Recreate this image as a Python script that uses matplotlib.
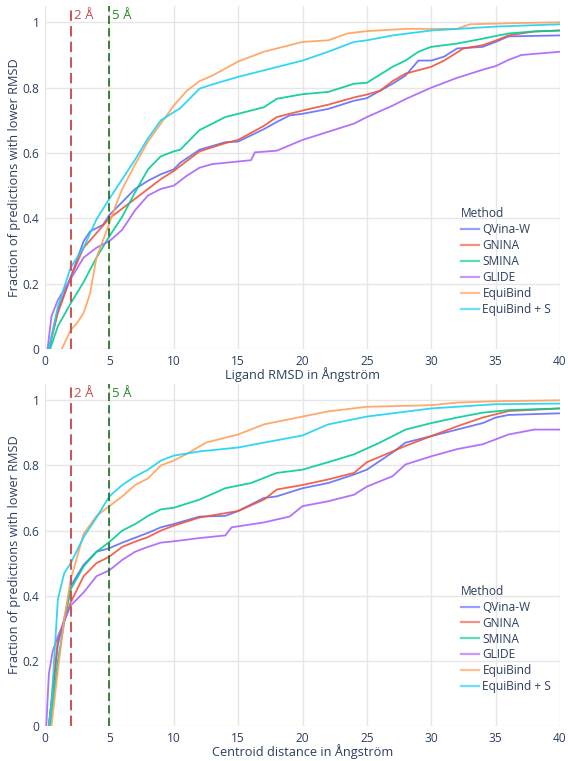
'''
Cumulative fraction of docking predictions below a distance threshold.
'''

import matplotlib
matplotlib.use('Agg')
import matplotlib.pyplot as plt
from matplotlib.lines import Line2D


methods = ['QVina-W', 'GNINA', 'SMINA', 'GLIDE', 'EquiBind', 'EquiBind + S']
colors = ['#636EFA', '#EF553B', '#00CC96', '#AB63FA', '#FFA15A', '#19D3F3']

# Ligand RMSD (top panel)
rmsd_x_qvina = [0.3, 1, 2, 3, 3.5, 4, 4.5, 5, 6, 7, 8, 9, 10, 10.5, 12, 14, 15, 17, 18, 19, 20, 22, 24, 25, 27, 28, 29, 30, 31, 32, 34, 35, 36, 40]
rmsd_y_qvina = [0, 0.12, 0.22, 0.33, 0.36, 0.37, 0.38, 0.41, 0.45, 0.49, 0.515, 0.535, 0.55, 0.57, 0.61, 0.633, 0.635, 0.673, 0.695, 0.715, 0.72, 0.735, 0.76, 0.768, 0.812, 0.837, 0.883, 0.883, 0.895, 0.92, 0.925, 0.94, 0.957, 0.96]

rmsd_x_gnina = [0.3, 1, 2, 3, 4, 5, 6, 7, 8, 9, 10, 10.5, 12, 14, 15, 17, 18, 20, 22, 24, 25, 26, 27, 28, 30, 31, 32.5, 34, 35, 36, 38, 40]
rmsd_y_gnina = [0, 0.11, 0.22, 0.31, 0.355, 0.40, 0.43, 0.46, 0.49, 0.52, 0.545, 0.56, 0.605, 0.63, 0.64, 0.683, 0.71, 0.73, 0.748, 0.77, 0.779, 0.79, 0.82, 0.843, 0.864, 0.883, 0.92, 0.93, 0.944, 0.96, 0.972, 0.975]

rmsd_x_smina = [0.4, 1, 2, 3, 4, 5, 6, 7, 8, 9, 10, 10.5, 12, 14, 15, 17, 18, 20, 22, 24, 25, 27, 28, 29, 30, 32, 34, 36, 38, 40]
rmsd_y_smina = [0, 0.07, 0.14, 0.205, 0.28, 0.345, 0.405, 0.48, 0.55, 0.59, 0.605, 0.61, 0.67, 0.71, 0.72, 0.74, 0.766, 0.78, 0.787, 0.812, 0.815, 0.864, 0.883, 0.91, 0.925, 0.935, 0.95, 0.966, 0.972, 0.975]

rmsd_x_glide = [0.2, 0.5, 1, 2, 3, 4, 5, 6, 7, 8, 9, 10, 11, 12, 13, 16, 16.3, 18, 20, 22, 24, 25, 27, 28, 30, 32, 34, 35, 36, 37, 40]
rmsd_y_glide = [0, 0.10, 0.15, 0.215, 0.28, 0.31, 0.33, 0.365, 0.425, 0.47, 0.49, 0.50, 0.53, 0.555, 0.566, 0.578, 0.602, 0.607, 0.64, 0.665, 0.69, 0.71, 0.745, 0.765, 0.80, 0.83, 0.855, 0.866, 0.885, 0.90, 0.91]

rmsd_x_equi = [1.3, 2, 2.5, 3, 3.5, 4, 5, 5.5, 6, 7, 8, 9, 10, 11, 12, 13, 15, 17, 20, 22, 23.5, 25, 28, 32, 33, 37, 40]
rmsd_y_equi = [0, 0.058, 0.08, 0.11, 0.17, 0.28, 0.385, 0.44, 0.49, 0.565, 0.635, 0.69, 0.745, 0.79, 0.82, 0.837, 0.88, 0.91, 0.94, 0.945, 0.966, 0.973, 0.98, 0.98, 0.994, 0.998, 1.0]

rmsd_x_equis = [0.3, 1, 2, 3, 4, 5, 6, 7, 8, 9, 10, 10.5, 12, 13, 15, 17, 20, 22, 24, 25, 27, 30, 35, 40]
rmsd_y_equis = [0, 0.13, 0.25, 0.31, 0.397, 0.46, 0.52, 0.58, 0.645, 0.70, 0.725, 0.737, 0.797, 0.81, 0.833, 0.853, 0.883, 0.91, 0.94, 0.945, 0.96, 0.975, 0.987, 0.994]

# Centroid distance (bottom panel)
cent_x_qvina = [0.3, 1, 1.5, 2, 3, 4, 5, 6, 7, 8, 9, 10, 12, 14, 15, 17, 18, 20, 22, 24, 25, 27, 28, 30, 32, 34, 35, 36, 40]
cent_y_qvina = [0, 0.25, 0.33, 0.43, 0.495, 0.535, 0.546, 0.563, 0.578, 0.593, 0.61, 0.62, 0.643, 0.645, 0.66, 0.70, 0.705, 0.73, 0.746, 0.772, 0.787, 0.84, 0.87, 0.89, 0.91, 0.93, 0.947, 0.955, 0.96]

cent_x_gnina = [0.3, 1, 2, 3, 4, 5, 6, 7, 8, 9, 10, 12, 15, 17, 18, 20, 22, 24, 25, 27, 28, 30, 32, 34, 36, 40]
cent_y_gnina = [0, 0.265, 0.38, 0.46, 0.50, 0.52, 0.55, 0.566, 0.58, 0.60, 0.615, 0.64, 0.66, 0.695, 0.726, 0.74, 0.757, 0.777, 0.81, 0.843, 0.86, 0.89, 0.92, 0.947, 0.967, 0.975]

cent_x_smina = [0.4, 1, 1.5, 2, 3, 4, 5, 6, 7, 8, 9, 10, 12, 14, 16, 18, 20, 22, 24, 26, 28, 30, 32, 34, 36, 40]
cent_y_smina = [0, 0.2, 0.32, 0.42, 0.49, 0.535, 0.565, 0.60, 0.62, 0.645, 0.665, 0.67, 0.695, 0.73, 0.746, 0.777, 0.787, 0.81, 0.834, 0.87, 0.91, 0.93, 0.947, 0.962, 0.97, 0.975]

cent_x_glide = [0.1, 0.3, 0.6, 1, 2, 3, 4, 5, 6, 7, 8, 9, 10, 12, 14, 14.5, 17, 19, 20, 22, 24, 25, 27, 28, 30, 32, 34, 35, 36, 38, 40]
cent_y_glide = [0, 0.16, 0.23, 0.275, 0.37, 0.41, 0.46, 0.478, 0.51, 0.535, 0.55, 0.563, 0.567, 0.577, 0.585, 0.61, 0.625, 0.643, 0.675, 0.69, 0.71, 0.735, 0.767, 0.803, 0.828, 0.85, 0.865, 0.88, 0.895, 0.91, 0.91]

cent_x_equi = [0.5, 1, 1.5, 2, 3, 4, 5, 6, 7, 8, 9, 10, 11, 12.5, 15, 17, 20, 22, 25, 30, 32, 35, 40]
cent_y_equi = [0, 0.17, 0.33, 0.45, 0.59, 0.645, 0.675, 0.705, 0.74, 0.76, 0.80, 0.815, 0.835, 0.87, 0.895, 0.926, 0.95, 0.966, 0.98, 0.985, 0.993, 0.997, 1.0]

cent_x_equis = [0.3, 0.5, 1, 1.5, 2, 3, 4, 5, 6, 7, 8, 9, 10, 12, 15, 17, 20, 22, 25, 27, 30, 35, 40]
cent_y_equis = [0, 0.07, 0.39, 0.47, 0.50, 0.58, 0.64, 0.705, 0.74, 0.766, 0.787, 0.815, 0.83, 0.843, 0.855, 0.87, 0.892, 0.926, 0.95, 0.96, 0.975, 0.988, 0.99]

x_ticks = [0, 5, 10, 15, 20, 25, 30, 35, 40]
y_ticks = [0, 0.2, 0.4, 0.6, 0.8, 1]
y_tick_labels = ['0', '0.2', '0.4', '0.6', '0.8', '1']

FONT = 'Open Sans'
TXT = '#2a3f5f'
GRID = '#e6e6e6'


def draw_panel(ax, curves, xlabel):

    for (xs, ys), color in zip(curves, colors):
        ax.plot(xs, ys, color=color, lw=1.3, alpha=0.9, solid_joinstyle='miter')

    # threshold markers
    ax.axvline(2, color='#c45a5a', lw=1.5, ls=(0, (5, 2.5)))
    ax.axvline(5, color='#1a6e1a', lw=1.2, ls=(0, (5, 2.5)))
    ax.annotate('2 Å', xy=(2, 1), xycoords=('data', 'axes fraction'), xytext=(2, -2),
                textcoords='offset points', ha='left', va='top', color='#c44e4e',
                fontsize=9.5, family=FONT)
    ax.annotate('5 Å', xy=(5, 1), xycoords=('data', 'axes fraction'), xytext=(2, -2),
                textcoords='offset points', ha='left', va='top', color='#2a8a2a',
                fontsize=9.5, family=FONT)

    ax.set_xlim(0, 40)
    ax.set_ylim(0, 1.05)
    ax.set_xticks(x_ticks)
    ax.set_yticks(y_ticks)
    ax.set_yticklabels(y_tick_labels)
    ax.grid(True, color=GRID, lw=1)
    ax.set_axisbelow(True)
    for s in ax.spines.values():
        s.set_visible(False)
    ax.tick_params(length=0, labelsize=8.6, labelcolor=TXT, pad=4)
    for lab in ax.get_xticklabels() + ax.get_yticklabels():
        lab.set_family(FONT)

    ax.set_xlabel(xlabel, fontsize=9.2, color=TXT, family=FONT)
    ax.xaxis.set_label_coords(0.5, -0.075)
    ax.xaxis.label.set_va('center')
    ax.set_ylabel('Fraction of predictions with lower RMSD', fontsize=9.2, color=TXT, family=FONT)
    ax.yaxis.set_label_coords(-0.06, 0.5)
    ax.yaxis.label.set_va('center')

    handles = [Line2D([], [], color=c, lw=1.6, alpha=0.65) for c in colors]
    leg = ax.legend(handles, methods, title='Method', loc='upper left',
                    bbox_to_anchor=(0.796, 0.43), frameon=False, borderpad=0,
                    handlelength=1.5, handletextpad=0.3, labelspacing=0.24,
                    prop={'family': FONT, 'size': 8.6}, title_fontsize=8.6)
    leg._legend_box.align = 'left'
    leg.get_title().set_color(TXT)
    leg.get_title().set_family(FONT)
    for t in leg.get_texts():
        t.set_color(TXT)


if __name__ == '__main__':

    fig = plt.figure(figsize=(5.68, 7.61), dpi=100)
    ax_top = fig.add_axes([45 / 568, 1 - 349 / 761, 515 / 568, 343 / 761])
    ax_bot = fig.add_axes([45 / 568, 1 - 726 / 761, 515 / 568, 342 / 761])

    top_curves = [(rmsd_x_qvina, rmsd_y_qvina), (rmsd_x_gnina, rmsd_y_gnina),
                  (rmsd_x_smina, rmsd_y_smina), (rmsd_x_glide, rmsd_y_glide),
                  (rmsd_x_equi, rmsd_y_equi), (rmsd_x_equis, rmsd_y_equis)]
    bot_curves = [(cent_x_qvina, cent_y_qvina), (cent_x_gnina, cent_y_gnina),
                  (cent_x_smina, cent_y_smina), (cent_x_glide, cent_y_glide),
                  (cent_x_equi, cent_y_equi), (cent_x_equis, cent_y_equis)]

    draw_panel(ax_top, top_curves, 'Ligand RMSD in Ångström')
    draw_panel(ax_bot, bot_curves, 'Centroid distance in Ångström')

    fig.savefig('out.png', dpi=100, facecolor='white')
